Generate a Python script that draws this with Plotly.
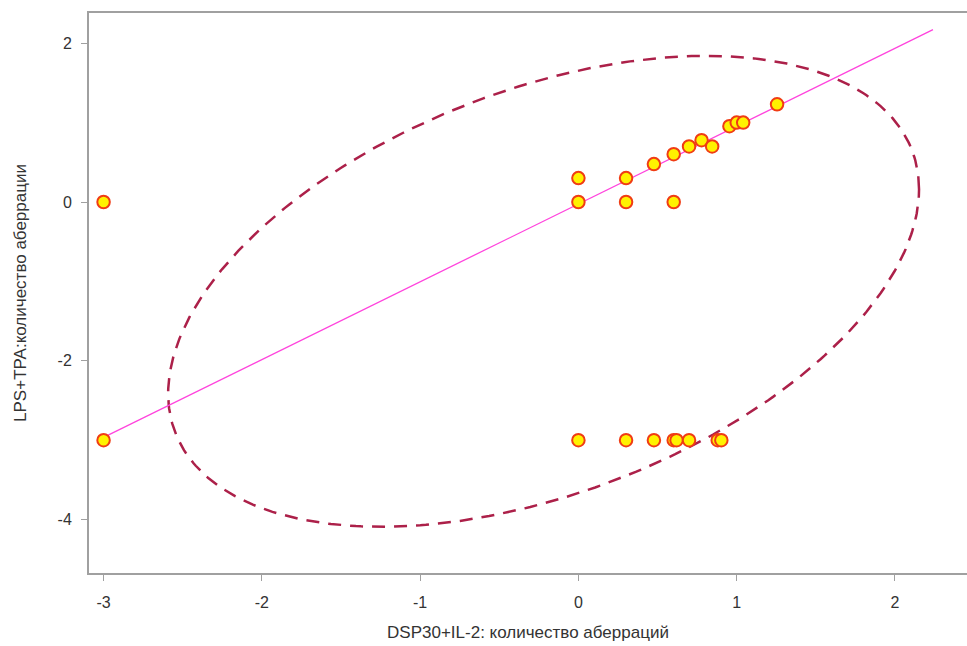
import numpy as np
import plotly.graph_objects as go

# Data (log-scaled aberration counts)
x_vals = [-3, -3, 0, 0, 0.301, 0.301, 0.477, 0.602, 0.602, 0.699, 0.778, 0.845,
          0.954, 1.0, 1.041, 1.255, 0, 0.301, 0.477, 0.602, 0.62, 0.699, 0.88, 0.903]
y_vals = [0, -3, 0.301, 0, 0.301, 0, 0.477, 0.602, 0, 0.699, 0.778, 0.699,
          0.954, 1.0, 1.0, 1.23, -3, -3, -3, -3, -3, -3, -3, -3]

# Regression line
reg_slope = 0.98
reg_intercept = -0.025
reg_x = [-3.0, 2.24]

# Prediction ellipse (center, std-extents, covariance)
ell_center = [-0.22, -1.125]
ell_sx = 2.372
ell_sy = 2.965
ell_sxy = 3.05

x_ticks = [-3, -2, -1, 0, 1, 2]
x_tick_text = ["-3", "-2", "-1", "0", "1", "2"]
y_ticks = [2, 0, -2, -4]
y_tick_text = ["2", "0", "-2", "-4"]

# ellipse curve via Cholesky factor
t = np.linspace(0, 2 * np.pi, 400)
l11 = ell_sx
l21 = ell_sxy / ell_sx
l22 = np.sqrt(ell_sy ** 2 - l21 ** 2)
ex = ell_center[0] + l11 * np.cos(t)
ey = ell_center[1] + l21 * np.cos(t) + l22 * np.sin(t)

reg_y = [reg_slope * v + reg_intercept for v in reg_x]

fig = go.Figure()
fig.add_trace(go.Scatter(x=ex, y=ey, mode="lines",
                         line=dict(color="#AC2049", width=2.5, dash="13px,9px"),
                         hoverinfo="skip"))
fig.add_trace(go.Scatter(x=reg_x, y=reg_y, mode="lines",
                         line=dict(color="#FF44DD", width=1.3), hoverinfo="skip"))
fig.add_trace(go.Scatter(x=x_vals, y=y_vals, mode="markers",
                         marker=dict(size=12.5, color="#FFF200",
                                     line=dict(color="#F03C14", width=2))))

font = "Liberation Sans, Arial, sans-serif"
fig.update_layout(
    width=967, height=646,
    margin=dict(l=89, r=0, t=13, b=73),
    paper_bgcolor="white", plot_bgcolor="white",
    showlegend=False,
    font=dict(family=font, size=16, color="#333333"),
)
fig.update_xaxes(range=[-3.092, 2.455], tickvals=x_ticks, ticktext=x_tick_text,
                 showgrid=False, zeroline=False,
                 showline=True, linecolor="#A0A0A0", linewidth=2, mirror=True,
                 ticks="outside", ticklen=6, tickcolor="#A0A0A0", ticklabelstandoff=8,
                 title=dict(text="DSP30+IL-2: количество аберраций", standoff=16,
                            font=dict(size=17, color="#333333")))
fig.update_yaxes(range=[-4.672, 2.38], tickvals=y_ticks, ticktext=y_tick_text,
                 showgrid=False, zeroline=False,
                 showline=True, linecolor="#A0A0A0", linewidth=2,
                 ticks="outside", ticklen=6, tickcolor="#A0A0A0", ticklabelstandoff=6,
                 title=dict(text="LPS+TPA:количество аберрации", standoff=27,
                            font=dict(size=17, color="#333333")))

fig.write_html("out.html")
